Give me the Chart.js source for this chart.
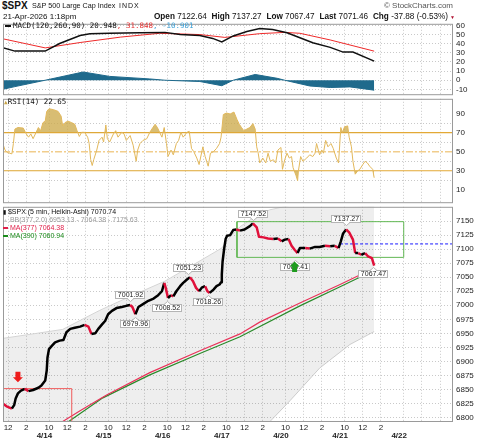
<!DOCTYPE html>
<html>
<head>
<meta charset="utf-8">
<script src="https://cdn.jsdelivr.net/npm/chart.js@4.4.1/dist/chart.umd.min.js"></script>
<style>
  body { margin: 0; width: 480px; height: 439px; overflow: hidden; position: relative; background: #fff; font-family: "Liberation Sans", Arial, sans-serif; color: #111; }
  canvas { position: absolute; left: 0; }
  .t { position: absolute; white-space: nowrap; z-index: 5; }
  .mono { font-family: "DejaVu Sans Mono", monospace; }
  .dash { display: inline-block; width: 6px; height: 2px; vertical-align: middle; margin-right: 2px; }
</style>
</head>
<body>
<div class="t" style="left:2px;top:0;font:bold 10px/11px 'Liberation Sans'">$SPX</div>
<div class="t" style="left:32px;top:1px;font:7.2px/10px 'Liberation Sans'">S&amp;P 500 Large Cap Index</div>
<div class="t" style="left:119px;top:1px;font:7px/10px 'Liberation Sans';letter-spacing:1px">INDX</div>
<div class="t" style="right:27px;top:1px;font:8px/10px 'Liberation Sans';color:#555">© StockCharts.com</div>
<div class="t" style="left:3px;top:12px;font:8px/10px 'Liberation Sans'">21-Apr-2026 1:18pm</div>
<div class="t" style="right:25px;top:12px;font:8.2px/10px 'Liberation Sans'"><b>Open</b> 7122.64 <b style="margin-left:2.5px">High</b> 7137.27 <b style="margin-left:2.5px">Low</b> 7067.47 <b style="margin-left:2.5px">Last</b> 7071.46 <b style="margin-left:2.5px">Chg</b> -37.88 (-0.53%)<span style="color:#b01030;font-size:5px;margin-left:2px">▼</span></div>

<div class="t mono" style="left:5px;top:21px;font-size:7.5px;line-height:10px"><span class="dash" style="background:#111"></span>MACD(120,260,90) 20.948<span style="color:#e53030">, 31.848</span><span style="color:#3aa0d8">, -10.901</span></div>
<div class="t mono" style="left:4px;top:97px;font-size:7.5px;line-height:10px"><span style="color:#c9a548;font-size:6px">▲</span>RSI(14) 22.65</div>
<div class="t" style="left:3px;top:207.5px;font-size:7px;line-height:8px">
  <div><span style="font-size:6px">▮</span> $SPX (5 min, Heikin-Ashi) 7070.74</div>
  <div style="color:#999"><span style="color:#ccc;font-size:5px">▲</span> BB(377,2.0) 6953.13 - 7064.38 - 7175.63</div>
  <div style="color:#e0204a"><span class="dash" style="background:#e0204a;width:5px"></span>MA(377) 7064.38</div>
  <div style="color:#1a8a1a"><span class="dash" style="background:#1a8a1a;width:5px"></span>MA(390) 7060.94</div>
</div>

<canvas id="macdChart" width="480" height="87" style="top:16px"></canvas>
<canvas id="rsiChart" width="480" height="120" style="top:91px"></canvas>
<canvas id="priceChart" width="480" height="240" style="top:199px"></canvas>

<script>
// x values are 5-minute bar numbers counted from the 4/13 open (78 bars per session)
const viewStart = 23.3, viewEnd = 617;

const hourTickBars = [30, 54, 84, 108, 132, 162, 186, 210, 240, 264, 288, 318, 342, 366, 396, 420, 444, 474, 498, 522, 552, 576, 600];
const hourTickLabels = ["12", "2", "10", "12", "2", "10", "12", "2", "10", "12", "2", "10", "12", "2", "10", "12", "2", "10", "12", "2", "", "", ""];
const dateTickBars = [78, 156, 234, 312, 390, 468, 546];
const dateTickLabels = ["4/14", "4/15", "4/16", "4/17", "4/20", "4/21", "4/22"];

const priceTicks = [6800, 6825, 6850, 6875, 6900, 6925, 6950, 6975, 7000, 7025, 7050, 7075, 7100, 7125, 7150];
const macdTicks = [-10, 0, 10, 20, 30, 40, 50, 60];
const rsiTicks = [10, 20, 30, 40, 50, 60, 70, 80, 90];

// Heikin-Ashi close, sampled
const priceBars = [
  24, 28, 35, 38, 40, 43, 47, 52, 57, 63, 70, 74,
  79, 81, 82, 84, 88, 92, 98, 103, 107, 112, 118, 125, 131, 136, 140, 145, 149, 154,
  158, 162, 167, 173, 180, 186, 191, 194, 198, 202, 208, 215, 222, 228, 233,
  236, 238, 241, 245, 248, 252, 257, 261, 266, 270, 274, 278, 282, 286, 290, 293, 296, 301, 305, 309, 311,
  312, 313, 315, 317, 319, 323, 327, 331, 336, 342, 349, 353, 358, 361, 367, 373, 380, 386,
  391, 395, 400, 404, 408, 412, 415, 422, 428, 435, 441, 448, 455, 461, 466,
  469, 472, 476, 480, 485, 488, 492, 496, 501, 505, 510, 512, 513
];
const priceVals = [
  6824, 6820, 6816, 6822, 6834, 6843, 6848, 6851, 6847, 6849, 6853, 6857,
  6866, 6884, 6907, 6922, 6928, 6934, 6937, 6938, 6952, 6958, 6960, 6962, 6965, 6962, 6949, 6950, 6958, 6966,
  6972, 6984, 6990, 6995, 6997, 6999, 7000.5, 6997, 6984, 6997, 7002, 7008, 7012, 7018, 7025,
  7040, 7031, 7013, 7018, 7016, 7025, 7034, 7040, 7046, 7050, 7043, 7031, 7025, 7032, 7034, 7025, 7022, 7028, 7034, 7037, 7041,
  7055, 7078, 7100, 7118, 7124, 7125, 7134, 7135, 7133, 7135, 7141, 7146, 7139, 7122, 7121, 7119, 7118, 7119,
  7114, 7117, 7118, 7106, 7099, 7093, 7102, 7102, 7101, 7104, 7104, 7106, 7105, 7106, 7102,
  7114, 7128, 7135, 7130, 7117, 7093, 7093, 7090, 7093, 7087, 7084, 7075, 7070.74
];

const bbBars = [23, 63, 102, 151, 193, 237, 283, 312, 323, 336, 356, 375, 402, 441, 481, 513];
const bbUpper = [6941, 6949, 6957, 6991, 7017, 7043, 7079, 7102, 7122, 7140, 7158, 7170, 7178, 7180, 7178, 7175.63];
const bbLower = [6560, 6580, 6600, 6640, 6700, 6725, 6750, 6760, 6765, 6770, 6780, 6792, 6830, 6888, 6930, 6953.13];

const ma377Bars = [72, 101, 125, 151, 160, 217, 283, 336, 362, 415, 468, 494, 513];
const ma377Vals = [6770, 6792, 6812, 6833, 6840, 6880, 6919, 6949, 6970, 7004, 7037, 7054, 7064.38];
const ma390Bars = [79, 109, 155, 217, 283, 336, 415, 468, 494, 513];
const ma390Vals = [6765, 6792, 6835, 6876, 6914, 6944, 6999, 7033, 7050, 7060.94];

const prevCloseBar = 468, prevClose = 7109.34;
const greenZoneBars = [332, 552], greenZonePrices = [7085.4, 7149];
const redZoneBars = [0, 114], redZonePrices = [6700, 6851.5];

const labelBars = [353, 476, 409, 511, 268, 294, 240, 191, 197];
const labelPrices = [7147.52, 7137.27, 7080.41, 7067.47, 7051.23, 7018.26, 7008.52, 7001.92, 6979.96];
const labelSides = ["above", "above", "below", "below", "above", "below", "below", "above", "below"];

const arrowBars = [43, 408];
const arrowPrices = [6863, 7078];
const arrowDirs = ["down", "up"];

const macdBars = [23, 39, 79, 98, 125, 138, 164, 204, 237, 257, 283, 300, 312, 327, 345, 362, 379, 398, 415, 432, 455, 472, 485, 513];
const macdVals = [35.7, 31.9, 31.9, 40.2, 49, 51, 51.4, 52, 52.4, 50, 49, 45.8, 42, 48.5, 53.4, 56.6, 55.5, 52, 46.5, 41, 36, 30.8, 30.8, 20.948];
const signalBars = [23, 79, 125, 178, 230, 283, 316, 362, 395, 415, 455, 513];
const signalVals = [45.4, 35.4, 41.3, 47.2, 51.4, 50, 46.9, 51, 52.4, 51.4, 44.1, 31.848];
const histBars = [23, 39, 79, 129, 164, 217, 237, 283, 312, 327, 356, 385, 395, 428, 455, 481, 513];
const histVals = [-10, -7, 0, 9, 4.2, 1.4, 0, -1.4, -6, 0, 6.3, 2.1, 0, -6.3, -8, -7.3, -10.901];

const rsiBars = [
  23, 26, 29, 32, 35, 37, 39, 43, 50, 54, 57, 60, 63, 67, 70, 73, 76, 79, 81, 84,
  90, 96, 100, 102, 105, 109, 114, 118, 121, 124, 127, 131, 135, 137, 139, 141, 143, 147, 150, 154,
  156, 159, 161, 164, 169, 172, 175, 180, 183, 186, 191, 195, 199, 201, 204, 208, 213, 217, 221, 224,
  227, 230, 233, 236, 239, 241, 245, 248, 252, 255, 258, 261, 266, 269, 272, 275, 279, 282, 287, 290,
  294, 297, 301, 305, 309, 311, 314, 318, 323, 328, 332, 335, 338, 341, 345, 349, 353, 356, 358, 360,
  362, 366, 370, 373, 376, 380, 383, 386, 390, 392, 395, 398, 401, 404, 406, 410, 412, 413, 416, 419,
  424, 428, 432, 435, 437, 441, 444, 446, 449, 452, 456, 459, 463, 466, 469, 471, 474, 478, 480, 483,
  485, 488, 491, 494, 498, 501, 504, 507, 511, 513
];
const rsiVals = [
  58.5, 51.7, 49, 48.4, 47.7, 58.5, 73.7, 75.3, 74.7, 68.6, 65.2, 68.6, 63.6, 70.3, 75.3, 72, 80.4, 82, 92.2, 95,
  94, 92.2, 87.2, 77, 80.4, 82, 80.4, 78.7, 72, 65.9, 70.3, 70.3, 65.2, 58.5, 41.6, 35.5, 41.6, 51.7, 61.8, 65.2,
  60.1, 78, 63.6, 60.1, 68.6, 72, 65.2, 70.3, 68.6, 61.8, 66.9, 56.8, 39.9, 51.7, 58.5, 61.8, 63.6, 70.3, 75.3, 78.7,
  75.3, 70.3, 65.2, 75.3, 58.5, 44.9, 51.7, 46.7, 58.5, 61.8, 70.3, 65.2, 70.3, 71.3, 53.4, 50, 43.3, 36.5, 55.1, 44.9,
  34.8, 48.4, 50, 53.4, 58.5, 65.2, 88.9, 90.5, 89.5, 91.5, 83.8, 78.7, 75.3, 72, 73.7, 75.3, 79.4, 73.7, 55.1, 48.4,
  38.2, 43.3, 38.2, 48.4, 39.9, 41.6, 38.2, 51.7, 54.4, 31.5, 41.6, 48.4, 43.3, 44.9, 33.2, 24.7, 19.6, 29.7, 44.9, 39.9,
  43.3, 46.7, 44.9, 48.4, 58.5, 46.7, 51.7, 48.4, 61.8, 55.1, 58.5, 53.4, 43.3, 38.2, 75.3, 70.3, 76, 77, 65.2, 55.1,
  39.9, 26.4, 29.7, 31.5, 36.5, 39.9, 38.2, 34.8, 31.5, 22.65
];
const rsiLevels = [30, 50, 70];

Chart.defaults.font.family = '"Liberation Sans", Arial, sans-serif';
Chart.defaults.font.size = 8;
Chart.defaults.color = "#222";

const pts = (xs, ys) => xs.map((x, i) => ({ x: x, y: ys[i] }));
const box = (bars, prices) => [
  { x: bars[0], y: prices[0] }, { x: bars[1], y: prices[0] },
  { x: bars[1], y: prices[1] }, { x: bars[0], y: prices[1] },
  { x: bars[0], y: prices[0] }
];
const gridColor = "#c9c9c9";

function timeAxis(showLabels) {
  return {
    type: "linear",
    min: viewStart,
    max: viewEnd,
    afterBuildTicks: axis => { axis.ticks = hourTickBars.map(v => ({ value: v })); },
    ticks: {
      display: showLabels, autoSkip: false, maxRotation: 0, padding: 1,
      callback: (v, i) => hourTickLabels[i]
    },
    grid: { color: gridColor, drawTicks: false },
    border: { display: false, dash: [1, 2] },
    afterFit: axis => { axis.height = showLabels ? 9 : 0; }
  };
}

function valueAxis(min, max, tickVals, labelFn, colorFn) {
  return {
    position: "right",
    min: min,
    max: max,
    afterBuildTicks: axis => { axis.ticks = tickVals.map(v => ({ value: v })); },
    ticks: { padding: 3, autoSkip: false, callback: labelFn || (v => v) },
    grid: { color: colorFn || gridColor, drawTicks: false },
    border: { display: false, dash: [1, 2] },
    afterFit: axis => { axis.width = 27; }
  };
}

const framePlugin = {
  id: "frame",
  afterDraw(chart) {
    const { ctx, chartArea: a } = chart;
    ctx.save();
    ctx.strokeStyle = "#9a9a9a";
    ctx.lineWidth = 1;
    ctx.strokeRect(a.left + 0.5, a.top + 0.5, a.right - a.left - 1, a.bottom - a.top - 1);
    ctx.restore();
  }
};

const notesPlugin = {
  id: "priceNotes",
  afterDatasetsDraw(chart) {
    const { ctx, scales } = chart;
    const x = scales.x, y = scales.y;
    ctx.save();
    ctx.font = '7px "Liberation Sans"';
    ctx.textAlign = "center";
    ctx.textBaseline = "middle";
    ctx.lineWidth = 1;
    labelBars.forEach((bar, i) => {
      const px = Math.round(x.getPixelForValue(bar));
      const py = y.getPixelForValue(labelPrices[i]);
      const text = labelPrices[i].toFixed(2);
      const w = Math.ceil(ctx.measureText(text).width) + 4;
      const h = 8;
      const above = labelSides[i] === "above";
      const top = Math.round(above ? py - 5 - h : py + 3);
      const left = px - Math.round(w / 2);
      ctx.fillStyle = "#fff";
      ctx.strokeStyle = "#b4b4b4";
      ctx.fillRect(left, top, w, h);
      ctx.strokeRect(left + 0.5, top + 0.5, w - 1, h - 1);
      const base = above ? top + h - 0.5 : top + 0.5;
      const tip = above ? base + 3 : base - 3;
      ctx.beginPath();
      ctx.moveTo(px - 3, base);
      ctx.lineTo(px + 0.5, tip);
      ctx.lineTo(px + 4, base);
      ctx.fill();
      ctx.stroke();
      ctx.fillRect(px - 2, base - 0.5, 5, 1);
      ctx.fillStyle = "#222";
      ctx.fillText(text, px + 0.5, top + h / 2 + 0.5);
    });
    arrowBars.forEach((bar, i) => {
      const px = x.getPixelForValue(bar);
      const py = y.getPixelForValue(arrowPrices[i]);
      const d = arrowDirs[i] === "up" ? 1 : -1;
      ctx.fillStyle = arrowDirs[i] === "up" ? "#1e9b1e" : "#ee1c1c";
      ctx.beginPath();
      ctx.moveTo(px, py);
      ctx.lineTo(px + 5, py + d * 5);
      ctx.lineTo(px + 2.5, py + d * 5);
      ctx.lineTo(px + 2.5, py + d * 10.5);
      ctx.lineTo(px - 2.5, py + d * 10.5);
      ctx.lineTo(px - 2.5, py + d * 5);
      ctx.lineTo(px - 5, py + d * 5);
      ctx.closePath();
      ctx.fill();
    });
    ctx.restore();
  }
};

const baseOptions = {
  responsive: false,
  animation: false,
  events: [],
  layout: { padding: { left: 3, right: 0, top: 6, bottom: 6 } },
  elements: { point: { radius: 0 }, line: { tension: 0 } },
  plugins: { legend: { display: false }, tooltip: { enabled: false } }
};

new Chart(document.getElementById("macdChart"), {
  type: "line",
  data: {
    datasets: [
      { data: pts(macdBars, macdVals), borderColor: "#111", borderWidth: 1.5, order: 1 },
      { data: pts(signalBars, signalVals), borderColor: "#ee2a2a", borderWidth: 1, order: 2 },
      { data: pts(histBars, histVals), borderColor: "#1f6a8c", backgroundColor: "#1f6a8c", borderWidth: 1, fill: "origin", order: 3 }
    ]
  },
  options: Object.assign({}, baseOptions, {
    scales: {
      x: timeAxis(false),
      y: valueAxis(-16.4, 61.8, macdTicks)
    }
  }),
  plugins: [framePlugin]
});

const rsiLine = "#e2b85c";
const rsiFill = "rgba(205,170,75,0.78)";
const clear = "rgba(0,0,0,0)";

new Chart(document.getElementById("rsiChart"), {
  type: "line",
  data: {
    datasets: [
      { data: pts(rsiBars, rsiVals), borderColor: rsiLine, borderWidth: 1, order: 0,
        fill: { target: { value: 70 }, above: rsiFill, below: clear } },
      { data: pts(rsiBars, rsiVals), borderColor: clear, borderWidth: 0, order: 1,
        fill: { target: { value: 30 }, above: clear, below: rsiFill } },
      ...rsiLevels.map(lvl => ({
        data: [{ x: viewStart, y: lvl }, { x: viewEnd, y: lvl }],
        borderColor: lvl === 50 ? "#f1cd8c" : "#e3a935",
        borderWidth: lvl === 50 ? 1.5 : 1.2,
        borderDash: lvl === 50 ? [7, 2, 2, 2] : [],
        order: 2
      }))
    ]
  },
  options: Object.assign({}, baseOptions, {
    scales: {
      x: timeAxis(false),
      y: valueAxis(-4, 105.4, rsiTicks,
        v => (v % 20 === 10 ? v : ""),
        ctx => (ctx.tick && ctx.tick.value % 20 === 0 ? gridColor : clear))
    }
  }),
  plugins: [framePlugin]
});

const haBlack = "#000", haRed = "#e0103a";

new Chart(document.getElementById("priceChart"), {
  type: "line",
  data: {
    datasets: [
      { data: pts(priceBars, priceVals), borderWidth: 2.5, borderJoinStyle: "round", borderColor: haBlack, order: 0,
        segment: { borderColor: ctx => (ctx.p1.parsed.y < ctx.p0.parsed.y ? haRed : haBlack) } },
      { data: [{ x: prevCloseBar, y: prevClose }, { x: viewEnd, y: prevClose }], borderColor: "#1a1aff", borderWidth: 1, borderDash: [3, 2], order: 1 },
      { data: box(greenZoneBars, greenZonePrices), borderColor: "#62b854", borderWidth: 1, order: 2 },
      { data: box(redZoneBars, redZonePrices), borderColor: "#f05a5a", borderWidth: 1, order: 2 },
      { data: pts(ma377Bars, ma377Vals), borderColor: "#e8345a", borderWidth: 1.2, order: 3 },
      { data: pts(ma390Bars, ma390Vals), borderColor: "#2a8a2a", borderWidth: 1.2, order: 4 },
      { data: pts(bbBars, bbUpper), borderColor: "#d4d4d4", borderWidth: 1, backgroundColor: "rgba(0,0,0,0.065)", fill: "+1", order: 6 },
      { data: pts(bbBars, bbLower), borderColor: "#d4d4d4", borderWidth: 1, order: 7 }
    ]
  },
  options: Object.assign({}, baseOptions, {
    layout: { padding: { left: 3, right: 0, top: 6, bottom: 0 } },
    scales: {
      x: timeAxis(true),
      x2: {
        type: "linear",
        position: "bottom",
        weight: 1,
        min: viewStart,
        max: viewEnd,
        afterBuildTicks: axis => { axis.ticks = dateTickBars.map(v => ({ value: v })); },
        ticks: { autoSkip: false, maxRotation: 0, padding: 0, font: { weight: "bold", size: 8 }, callback: (v, i) => dateTickLabels[i] },
        grid: { display: false, drawTicks: false },
        border: { display: false },
        afterFit: axis => { axis.height = 8; }
      },
      y: valueAxis(6792, 7175.5, priceTicks)
    }
  }),
  plugins: [notesPlugin, framePlugin]
});
</script>
</body>
</html>
